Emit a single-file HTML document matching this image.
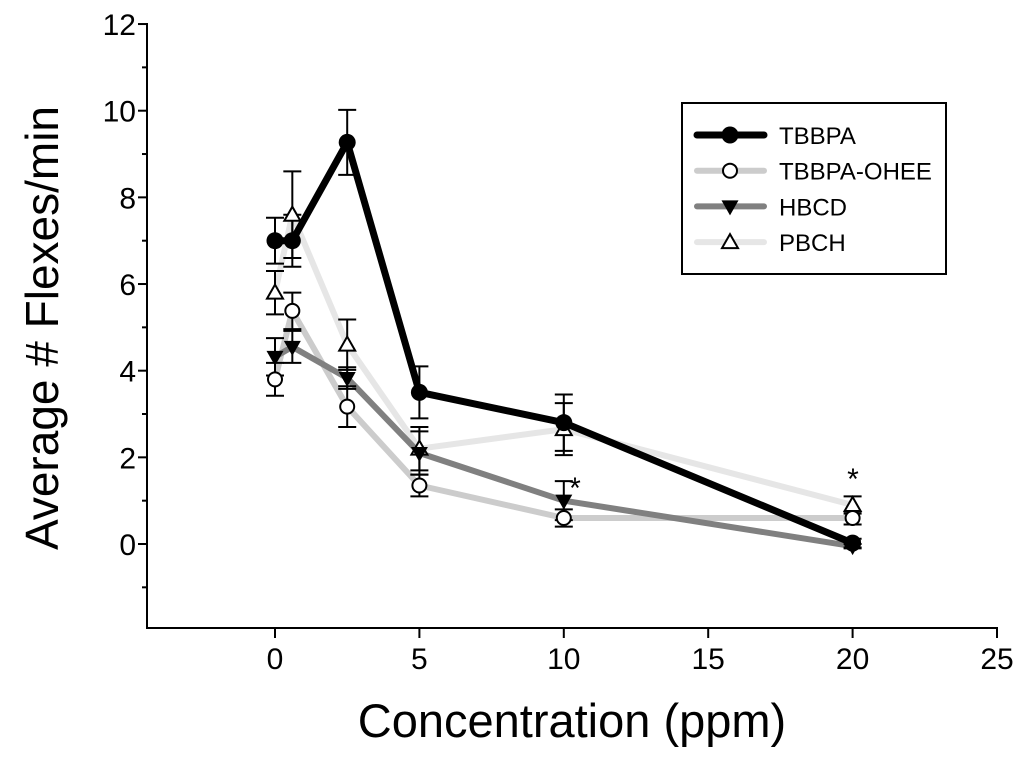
<!DOCTYPE html>
<html><head><meta charset="utf-8"><style>
html,body{margin:0;padding:0;background:#fff;}
svg{display:block;font-family:"Liberation Sans",Arial,sans-serif;}
</style></head><body>
<svg id="chart" width="1024" height="776" viewBox="0 0 1024 776" xmlns="http://www.w3.org/2000/svg">
<g id="axes"></g>
<g id="lines"></g>
<g id="marks"></g>
<text x="575" y="498" font-size="30" text-anchor="middle">*</text>
<text x="853" y="489" font-size="30" text-anchor="middle">*</text>
<text x="572" y="737" font-size="47" text-anchor="middle">Concentration (ppm)</text>
<text transform="translate(58,328) rotate(-90)" font-size="46" text-anchor="middle">Average # Flexes/min</text>
<g id="legend">
<rect x="682" y="103" width="264" height="171" fill="#fff" stroke="#000" stroke-width="2"/>
</g>
</svg>
<script>
const concentrations = [0, 0.6, 2.5, 5, 10, 20];
const seriesNames = ["TBBPA", "TBBPA-OHEE", "HBCD", "PBCH"];
const tbbpa = [7.0, 7.0, 9.27, 3.5, 2.8, 0.02];
const tbbpaErr = [0.53, 0.6, 0.75, 0.6, 0.65, 0.1];
const ohee = [3.8, 5.38, 3.17, 1.35, 0.6, 0.6];
const oheeErr = [0.38, 0.42, 0.47, 0.25, 0.2, 0.15];
const hbcd = [4.32, 4.55, 3.83, 2.1, 1.0, -0.05];
const hbcdErr = [0.43, 0.37, 0.25, 0.5, 0.45, 0.05];
const pbch = [5.8, 7.6, 4.6, 2.2, 2.65, 0.9];
const pbchErr = [0.5, 1.0, 0.58, 0.5, 0.6, 0.2];
const xTicks = [0, 5, 10, 15, 20, 25];
const yTicks = [0, 2, 4, 6, 8, 10, 12];
const yMinorTicks = [-1, 1, 3, 5, 7, 9, 11];

const NS = "http://www.w3.org/2000/svg";
const X0 = 275, XS = 28.88, Y0 = 544, YS = 43.33;
const xs = v => X0 + v * XS;
const ys = v => Y0 - v * YS;
function mk(tag, attrs, parent) {
  const e = document.createElementNS(NS, tag);
  for (const k in attrs) e.setAttribute(k, attrs[k]);
  parent.appendChild(e);
  return e;
}
const axes = document.getElementById('axes');
const left = 147, bottom = 628, right = xs(25);
let el = mk('line', {x1: left, y1: ys(12) - 1, x2: left, y2: bottom, stroke: '#000', 'stroke-width': 2}, axes);


el = mk('line', {x1: left - 1, y1: bottom, x2: right + 1, y2: bottom, stroke: '#000', 'stroke-width': 2}, axes);


yTicks.forEach(t => {
  const tk = mk('line', {x1: left - 9, y1: ys(t), x2: left, y2: ys(t), stroke: '#000', 'stroke-width': 2}, axes);
  
  
  const lb = mk('text', {x: left - 11, y: ys(t) + 11, 'font-size': 30, 'text-anchor': 'end'}, axes);
  lb.textContent = t;
  
  
});
yMinorTicks.forEach(t => {
  const tk = mk('line', {x1: left - 5, y1: ys(t), x2: left, y2: ys(t), stroke: '#000', 'stroke-width': 2}, axes);
  
  
});
xTicks.forEach(t => {
  const tk = mk('line', {x1: xs(t), y1: bottom, x2: xs(t), y2: bottom + 10, stroke: '#000', 'stroke-width': 2}, axes);
  
  
  const lb = mk('text', {x: xs(t), y: 669, 'font-size': 30, 'text-anchor': 'middle'}, axes);
  lb.textContent = t;
  
  
});

const series = [
  {vals: pbch, err: pbchErr, color: '#e6e6e6', w: 6, m: 'tri'},
  {vals: ohee, err: oheeErr, color: '#cccccc', w: 6, m: 'circ'},
  {vals: hbcd, err: hbcdErr, color: '#808080', w: 6, m: 'tdown'},
  {vals: tbbpa, err: tbbpaErr, color: '#000000', w: 7, m: 'dot'}
];
const slug = ['pbch', 'tbbpa-ohee', 'hbcd', 'tbbpa'];
const lines = document.getElementById('lines');
const marks = document.getElementById('marks');
function marker(type, cx, cy, parent) {
  let e;
  if (type === 'dot') e = mk('circle', {cx, cy, r: 8.5, fill: '#000'}, parent);
  else if (type === 'circ') e = mk('circle', {cx, cy, r: 7, fill: '#fff', stroke: '#000', 'stroke-width': 2}, parent);
  else if (type === 'tdown') e = mk('polygon', {points: `${cx-8.5},${cy-6} ${cx+8.5},${cy-6} ${cx},${cy+9}`, fill: '#000'}, parent);
  else e = mk('polygon', {points: `${cx-8},${cy+6} ${cx+8},${cy+6} ${cx},${cy-8}`, fill: '#fff', stroke: '#000', 'stroke-width': 2}, parent);
  return e;
}
series.forEach((s, si) => {
  const pts = concentrations.map((c, i) => xs(c) + ',' + ys(s.vals[i])).join(' ');
  const pl = mk('polyline', {points: pts, fill: 'none', stroke: s.color, 'stroke-width': s.w, 'stroke-linejoin': 'round'}, lines);
  
  
});
series.forEach((s, si) => {
  concentrations.forEach((c, i) => {
    const cx = xs(c), t = ys(s.vals[i] + s.err[i]), b = ys(s.vals[i] - s.err[i]);
    const g = mk('g', {stroke: '#000', 'stroke-width': 2}, marks);
    
    
    mk('line', {x1: cx, y1: t, x2: cx, y2: b}, g);
    mk('line', {x1: cx - 9, y1: t, x2: cx + 9, y2: t}, g);
    mk('line', {x1: cx - 9, y1: b, x2: cx + 9, y2: b}, g);
  });
});
series.forEach((s, si) => {
  concentrations.forEach((c, i) => {
    const e = marker(s.m, xs(c), ys(s.vals[i]), marks);
    
    
  });
});

const legend = document.getElementById('legend');
const legendOrder = [3, 1, 2, 0];
legendOrder.forEach((si, k) => {
  const s = series[si];
  const y = 135 + k * 35.7;
  const g = mk('g', {}, legend);
  
  
  mk('line', {x1: 697, y1: y, x2: 764, y2: y, stroke: s.color, 'stroke-width': s.w, 'stroke-linecap': 'round'}, g);
  marker(s.m, 730, y, g);
  const t = mk('text', {x: 779, y: y + 9, 'font-size': 24}, g);
  t.textContent = seriesNames[k];
});
</script>
</body></html>
